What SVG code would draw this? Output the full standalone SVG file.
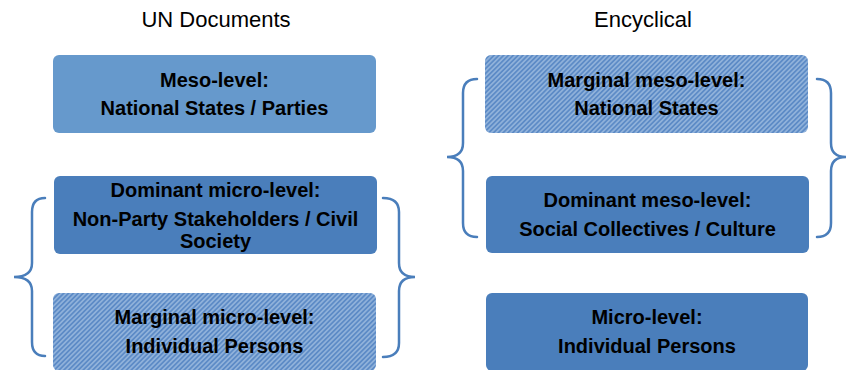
<svg xmlns="http://www.w3.org/2000/svg" width="847" height="370" viewBox="0 0 847 370">
<defs>
<pattern id="hatch" patternUnits="userSpaceOnUse" width="3.4" height="3.4" patternTransform="rotate(45)">
<rect width="3.4" height="3.4" fill="#8fb1da"/>
<rect width="1.7" height="3.4" fill="#5d8bc6"/>
</pattern>
</defs>
<style>
.title{font-family:"Liberation Sans",Arial,sans-serif;font-size:22px;fill:#000;text-anchor:middle}
.lbl{font-family:"Liberation Sans",Arial,sans-serif;font-size:20px;font-weight:bold;fill:#000;text-anchor:middle}
.light{fill:#6699cc}
.dark{fill:#4a7ebb}
.hatched{fill:url(#hatch)}
.brace{fill:none;stroke:#4a7ebb;stroke-width:2.5;stroke-linecap:round}
</style>
<rect width="847" height="370" fill="#fff"/>
<text class="title" x="216" y="27">UN Documents</text>
<text class="title" x="643" y="27">Encyclical</text>

<g id="un-meso">
<rect class="light" x="53" y="55" width="323" height="78" rx="6"/>
<text class="lbl" x="214.5" y="87">Meso-level:</text>
<text class="lbl" x="214.5" y="115">National States / Parties</text>
</g>
<g id="un-dominant-micro">
<rect class="dark" x="54" y="176" width="323" height="78" rx="6"/>
<text class="lbl" x="215.5" y="197">Dominant micro-level:</text>
<text class="lbl" x="215.5" y="226">Non-Party Stakeholders / Civil</text>
<text class="lbl" x="215.5" y="248">Society</text>
</g>
<g id="un-marginal-micro">
<rect class="hatched" x="53" y="293" width="323" height="78" rx="6"/>
<text class="lbl" x="214.5" y="324">Marginal micro-level:</text>
<text class="lbl" x="214.5" y="353">Individual Persons</text>
</g>

<g id="enc-marginal-meso">
<rect class="hatched" x="485" y="55" width="323" height="78" rx="6"/>
<text class="lbl" x="646.5" y="87">Marginal meso-level:</text>
<text class="lbl" x="646.5" y="115">National States</text>
</g>
<g id="enc-dominant-meso">
<rect class="dark" x="486" y="176" width="323" height="77" rx="6"/>
<text class="lbl" x="647.5" y="207">Dominant meso-level:</text>
<text class="lbl" x="647.5" y="236">Social Collectives / Culture</text>
</g>
<g id="enc-micro">
<rect class="dark" x="486" y="293" width="322" height="78" rx="6"/>
<text class="lbl" x="647" y="324">Micro-level:</text>
<text class="lbl" x="647" y="353">Individual Persons</text>
</g>

<g id="connectors">
<path class="brace" d="M45,198 Q32,198 32,212 L32,263 Q32,277 14,277 Q32,277 32,291 L32,342 Q32,356 45,356"/>
<path class="brace" d="M383,198 Q399,198 399,212 L399,263 Q399,277 415,277 Q399,277 399,291 L399,343 Q399,357 383,357"/>
<path class="brace" d="M477,79 Q463,79 463,93 L463,143 Q463,157 447,157 Q463,157 463,171 L463,223 Q463,237 477,237"/>
<path class="brace" d="M817,79 Q831,79 831,93 L831,143 Q831,157 846,157 Q831,157 831,171 L831,223 Q831,237 817,237"/>
</g>
</svg>
